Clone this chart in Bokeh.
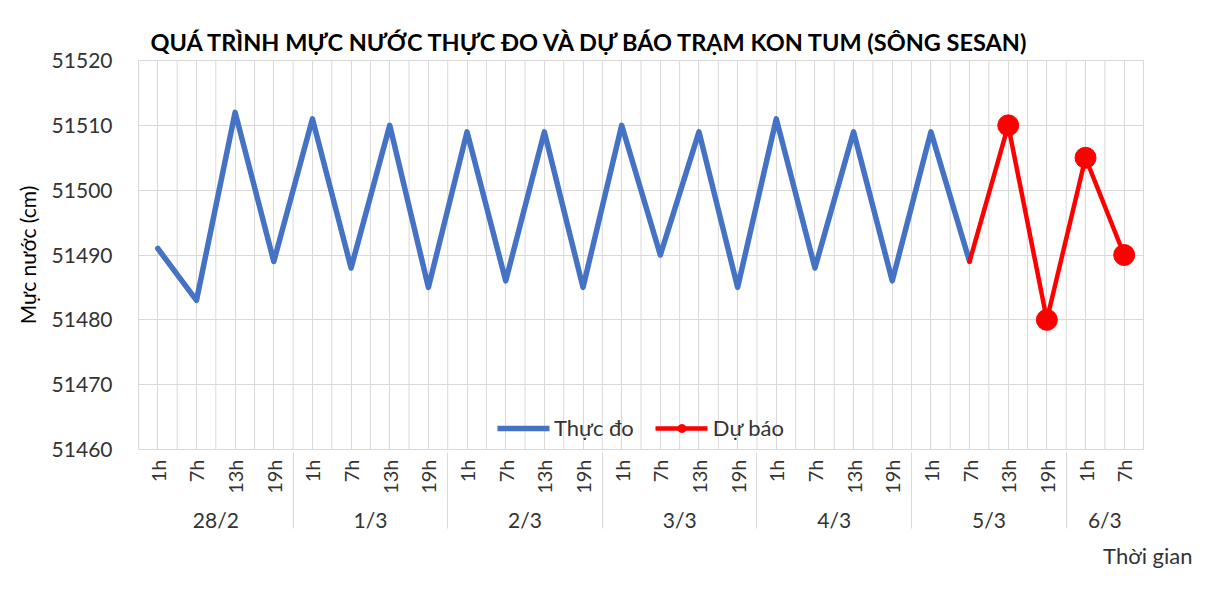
import math
from bokeh.plotting import figure
from bokeh.models import (FactorRange, Range1d, SingleIntervalTicker, Legend,
                          LegendItem, Title)
from bokeh.embed import file_html
from bokeh.resources import INLINE

# ---- data -------------------------------------------------------------
days = ["28/2", "1/3", "2/3", "3/3", "4/3", "5/3", "6/3"]
hours_full = ["1h", "7h", "13h", "19h"]
hours_last = ["1h", "7h"]

observed_x = [("28/2", "1h"), ("28/2", "7h"), ("28/2", "13h"), ("28/2", "19h"),
              ("1/3", "1h"), ("1/3", "7h"), ("1/3", "13h"), ("1/3", "19h"),
              ("2/3", "1h"), ("2/3", "7h"), ("2/3", "13h"), ("2/3", "19h"),
              ("3/3", "1h"), ("3/3", "7h"), ("3/3", "13h"), ("3/3", "19h"),
              ("4/3", "1h"), ("4/3", "7h"), ("4/3", "13h"), ("4/3", "19h"),
              ("5/3", "1h"), ("5/3", "7h")]
observed = [51491, 51483, 51512, 51489,
            51511, 51488, 51510, 51485,
            51509, 51486, 51509, 51485,
            51510, 51490, 51509, 51485,
            51511, 51488, 51509, 51486,
            51509, 51489]

forecast_x = [("5/3", "7h"), ("5/3", "13h"), ("5/3", "19h"), ("6/3", "1h"), ("6/3", "7h")]
forecast = [51489, 51510, 51480, 51505, 51490]
forecast_marker_x = forecast_x[1:]
forecast_marker = forecast[1:]

y_ticks = [51460, 51470, 51480, 51490, 51500, 51510, 51520]

# ---- figure -----------------------------------------------------------
factors = [(d, h) for d in days for h in (hours_last if d == "6/3" else hours_full)]
FONT = "Lato"
GRID = "#d9d9d9"

p = figure(width=1198, height=573,
           x_range=FactorRange(*factors, factor_padding=0, group_padding=0,
                               subgroup_padding=0, range_padding=0),
           y_range=Range1d(y_ticks[0], y_ticks[-1]),
           output_backend="svg", toolbar_location=None,
           min_border_left=138, min_border_right=55,
           min_border_top=60, min_border_bottom=113)

p.title.text = "QUÁ TRÌNH MỰC NƯỚC THỰC ĐO VÀ DỰ BÁO TRẠM KON TUM (SÔNG SESAN)"
p.title.align = "left"
p.title.offset = 12
p.title.text_font = FONT
p.title.text_font_size = "23.5px"
p.title.text_font_style = "bold"
p.title.text_color = "black"

p.outline_line_color = GRID
p.xgrid.grid_line_color = GRID
p.ygrid.grid_line_color = GRID

# boundary grid lines between categories (synthetic positions 0..N)
bounds_x = list(range(len(factors) + 1))
p.segment(x0=bounds_x, x1=bounds_x, y0=[y_ticks[0]] * len(bounds_x),
          y1=[y_ticks[-1]] * len(bounds_x), line_color=GRID, line_width=1,
          level="underlay")

r_obs = p.line(observed_x, observed, line_color="#4472C4", line_width=5.5,
               line_join="round", line_cap="round")
r_fc = p.line(forecast_x, forecast, line_color="#FF0000", line_width=4.5,
              line_join="round", line_cap="round")
r_fm = p.scatter(forecast_marker_x, forecast_marker, size=21, fill_color="#FF0000",
                 line_color="#FF0000")

# y axis
p.yaxis.ticker = SingleIntervalTicker(interval=10, num_minor_ticks=0)
p.yaxis.axis_line_color = None
p.yaxis.major_tick_line_color = None
p.yaxis.minor_tick_line_color = None
p.yaxis.major_label_standoff = 20
p.yaxis.major_label_text_font = FONT
p.yaxis.major_label_text_font_size = "21px"
p.yaxis.major_label_text_color = "#333333"
p.yaxis.axis_label = "Mực nước (cm)"
p.yaxis.axis_label_text_font = FONT
p.yaxis.axis_label_text_font_size = "21px"
p.yaxis.axis_label_text_font_style = "normal"
p.yaxis.axis_label_text_color = "black"
p.yaxis.axis_label_standoff = 9

# x axis
p.xaxis.axis_line_color = GRID
p.xaxis.major_tick_line_color = None
p.xaxis.major_tick_out = 0
p.xaxis.major_tick_in = 0
p.xaxis.major_label_standoff = 10
p.xaxis.major_label_orientation = math.pi / 2
p.xaxis.major_label_text_font = FONT
p.xaxis.major_label_text_font_size = "20px"
p.xaxis.major_label_text_color = "#333333"
p.xaxis.group_text_font = FONT
p.xaxis.group_text_font_size = "21px"
p.xaxis.group_text_font_style = "normal"
p.xaxis.group_text_color = "#333333"
p.xaxis.separator_line_color = GRID
p.xaxis.separator_line_width = 1

legend = Legend(items=[LegendItem(label="Thực đo", renderers=[r_obs]),
                       LegendItem(label="Dự báo", renderers=[r_fc, r_fm])],
                orientation="horizontal", location="bottom_center",
                border_line_color=None, background_fill_alpha=0,
                label_text_font=FONT, label_text_font_size="22px",
                label_text_color="#333333",
                glyph_width=52, spacing=22, padding=0, margin=8)
p.add_layout(legend)

p.add_layout(Title(text="Thời gian", align="right", offset=-49,
                   text_font=FONT, text_font_size="22px",
                   text_font_style="normal", text_color="#333333"), "below")

open("out.html", "w").write(file_html(p, INLINE))
